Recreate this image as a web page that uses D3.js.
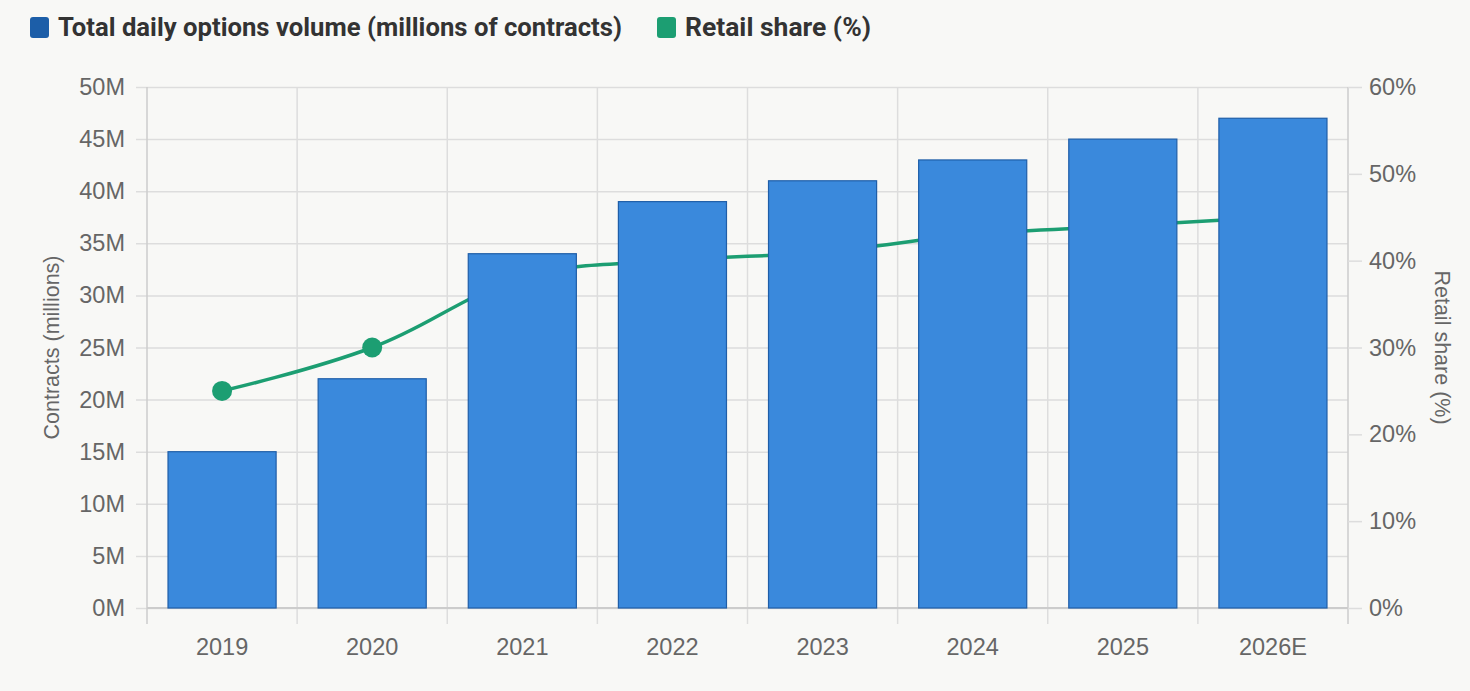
<!DOCTYPE html>
<html>
<head>
<meta charset="utf-8">
<style>
  body { margin: 0; background: #f8f8f6; }
  svg { display: block; }
</style>
</head>
<body>
<script src="https://d3js.org/d3.v7.min.js"></script>
<script>
// chart data
var years = ["2019", "2020", "2021", "2022", "2023", "2024", "2025", "2026E"];
var volume = [15, 22, 34, 39, 41, 43, 45, 47];          // millions of contracts
var retailShare = [25, 30, 38, 40, 41, 43, 44, 45];     // percent
var volumeTicks = [0, 5, 10, 15, 20, 25, 30, 35, 40, 45, 50];
var shareTicks = [0, 10, 20, 30, 40, 50, 60];

var W = 1470, H = 691;
var margin = { left: 147, right: 122, top: 87, bottom: 83 };
var innerW = W - margin.left - margin.right;
var innerH = H - margin.top - margin.bottom;

var svg = d3.select("body").append("svg")
    .attr("width", W)
    .attr("height", H);

svg.append("rect").attr("width", W).attr("height", H).attr("fill", "#f8f8f6");

var x = d3.scaleBand().domain(years).range([0, innerW]).paddingInner(0).paddingOuter(0);
var yL = d3.scaleLinear().domain([0, 50]).range([innerH, 0]);
var yR = d3.scaleLinear().domain([0, 60]).range([innerH, 0]);

var g = svg.append("g").attr("transform", "translate(" + margin.left + "," + margin.top + ")");

var tickFont = "'Liberation Sans', Arial, sans-serif";
var tickSize = 23.5;

// horizontal grid + left axis
var left = g.append("g").call(d3.axisLeft(yL).tickValues(volumeTicks)
    .tickSize(-innerW).tickPadding(6).tickFormat(function (d) { return d + "M"; }));
left.select(".domain").remove();
left.selectAll(".tick line").attr("stroke", "#dddddd").attr("stroke-width", 1.5)
    .attr("x2", innerW).attr("x1", -11);
left.selectAll(".tick text").attr("x", -22).attr("fill", "#666").attr("font-size", tickSize)
    .attr("font-family", tickFont);

// vertical grid at category boundaries
var bounds = years.map(function (d) { return x(d); }).concat([innerW]);
g.selectAll(".vgrid").data(bounds).enter().append("line")
    .attr("class", "vgrid")
    .attr("x1", function (d) { return d; }).attr("x2", function (d) { return d; })
    .attr("y1", 0).attr("y2", innerH + 16)
    .attr("stroke", function (d, i) { return (i === 0 || i === bounds.length - 1) ? "#cccccc" : "#dddddd"; })
    .attr("stroke-width", 1.5);

// x axis line
g.append("line").attr("x1", 0).attr("x2", innerW).attr("y1", innerH).attr("y2", innerH)
    .attr("stroke", "#cccccc").attr("stroke-width", 2);

// x labels
g.selectAll(".xlab").data(years).enter().append("text")
    .attr("x", function (d) { return x(d) + x.bandwidth() / 2; })
    .attr("y", innerH + 47)
    .attr("text-anchor", "middle")
    .attr("fill", "#666").attr("font-size", tickSize).attr("font-family", tickFont)
    .text(function (d) { return d; });

// right axis
var right = g.append("g").attr("transform", "translate(" + innerW + ",0)")
    .call(d3.axisRight(yR).tickValues(shareTicks).tickSize(14).tickPadding(6)
    .tickFormat(function (d) { return d + "%"; }));
right.select(".domain").remove();
right.selectAll(".tick line").attr("stroke", "#dddddd").attr("stroke-width", 1.5);
right.selectAll(".tick text").attr("x", 21).attr("fill", "#666").attr("font-size", tickSize)
    .attr("font-family", tickFont);

// axis titles
svg.append("text")
    .attr("transform", "translate(59," + (margin.top + innerH / 2) + ") rotate(-90)")
    .attr("text-anchor", "middle").attr("fill", "#666").attr("font-size", 21.5)
    .attr("font-family", tickFont).text("Contracts (millions)");
svg.append("text")
    .attr("transform", "translate(1435," + (margin.top + innerH / 2) + ") rotate(90)")
    .attr("text-anchor", "middle").attr("fill", "#666").attr("font-size", 21.5)
    .attr("font-family", tickFont).text("Retail share (%)");

// retail share line (drawn under the bars)
var cx = function (i) { return x(years[i]) + x.bandwidth() / 2; };
var line = d3.line()
    .x(function (d, i) { return cx(i); })
    .y(function (d) { return yR(d); })
    .curve(d3.curveCardinal.tension(-0.2));
g.append("path").datum(retailShare)
    .attr("d", line).attr("fill", "none")
    .attr("stroke", "#1c9e72").attr("stroke-width", 3.5);
g.selectAll(".dot").data(retailShare).enter().append("circle")
    .attr("cx", function (d, i) { return cx(i); })
    .attr("cy", function (d) { return yR(d); })
    .attr("r", 10).attr("fill", "#1c9e72");

// bars
var barW = x.bandwidth() * 0.72;
g.selectAll(".bar").data(volume).enter().append("rect")
    .attr("x", function (d, i) { return cx(i) - barW / 2; })
    .attr("y", function (d) { return yL(d); })
    .attr("width", barW)
    .attr("height", function (d) { return innerH - yL(d); })
    .attr("fill", "#3a89dc").attr("stroke", "#1f5ea8").attr("stroke-width", 1.2);

// legend
var legend = [
    { label: "Total daily options volume (millions of contracts)", color: "#1c5ea8", len: 564 },
    { label: "Retail share (%)", color: "#1c9e72", len: 186 }
];
var lg = svg.append("g").attr("transform", "translate(30,17)");
var lx = 0;
legend.forEach(function (d) {
    var item = lg.append("g").attr("transform", "translate(" + lx + ",0)");
    item.append("rect").attr("width", 19).attr("height", 21).attr("rx", 3).attr("fill", d.color);
    item.append("text").attr("x", 28).attr("y", 19)
        .attr("font-family", "Roboto, sans-serif").attr("font-weight", 700)
        .attr("font-size", 25).attr("fill", "#333")
        .attr("textLength", d.len).attr("lengthAdjust", "spacingAndGlyphs")
        .text(d.label);
    lx += 28 + d.len + 35;
});
</script>
</body>
</html>
